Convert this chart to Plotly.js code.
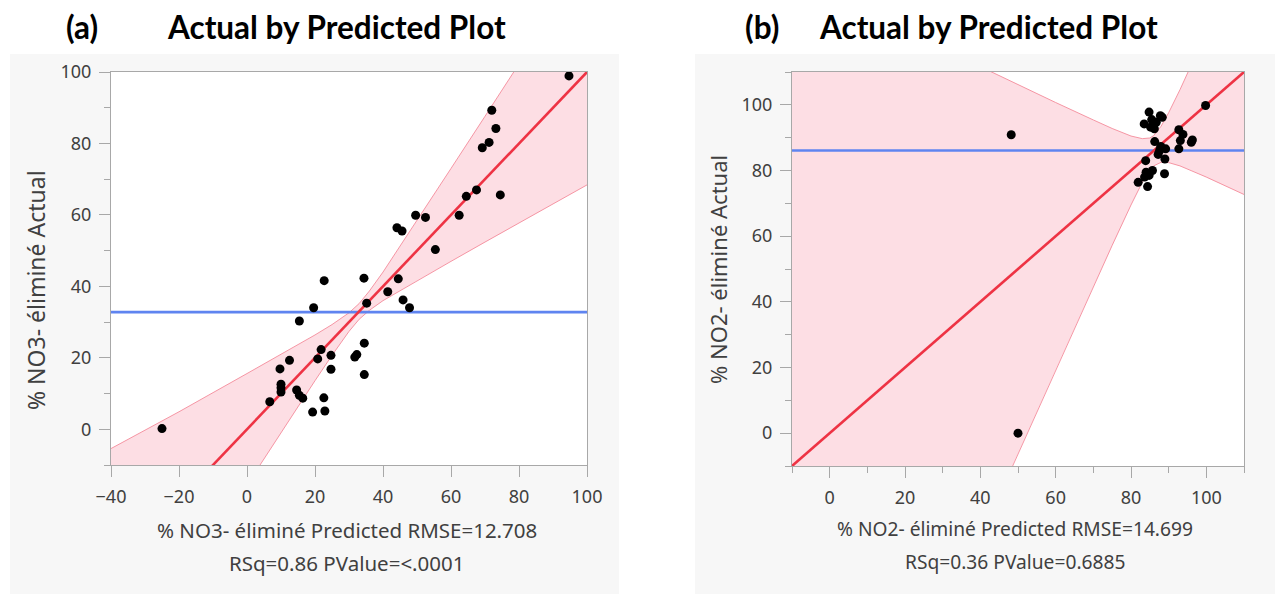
<!DOCTYPE html>
<html>
<head>
<meta charset="utf-8">
<script src="https://cdn.plot.ly/plotly-3.0.1.min.js"></script>
<style>html,body{margin:0;padding:0;background:#fff;} #chart{width:1275px;height:594px;}</style>
</head>
<body>
<div id="chart"></div>
<script>
// ---------- Panel (a) data: % NO3- éliminé ----------
var aPredicted = [-25,94.7,72,73.2,71.2,69.2,67.5,64.5,74.5,62.4,49.6,52.5,44.1,45.6,55.4,22.7,34.4,44.5,41.4,45.9,35.2,47.8,19.6,15.4,21.8,34.5,24.7,20.8,32.3,31.7,12.5,9.7,24.7,34.5,10,10,10,14.6,15.4,16.4,6.7,22.6,19.3,22.9];
var aActual    = [0.2,98.9,89.3,84.2,80.3,78.8,67,65.2,65.6,59.9,59.9,59.3,56.4,55.5,50.3,41.6,42.3,42.1,38.5,36.2,35.3,34,34,30.3,22.3,24.1,20.7,19.7,20.9,20.2,19.3,16.9,16.8,15.3,12.6,11.6,10.4,11,9.5,8.7,7.7,8.8,4.8,5.1];
var aMean = 32.8;
var aFitX = [-40, 100];
var aBandX     = [-40,-20,0,10,20,25,30,33,36,40,50,60,70,80,90,100];
var aBandUpper = [-5.4,4.9,15.6,20.9,26.4,29.3,32.6,35.2,38.7,44.0,58.4,73.0,87.6,102.3,116.9,131.6];
var aBandLower = [-74.3,-24.9,-15.6,-0.9,13.6,20.7,27.4,30.8,33.3,36.0,41.6,47.0,52.4,57.7,63.1,68.4];

// ---------- Panel (b) data: % NO2- éliminé ----------
var bPredicted = [48.2,50,99.8,84.8,87.8,83.5,85.2,86.7,86.2,88.3,85.5,92.7,93.8,93.1,92.7,96.3,96.0,86.3,87.9,89.2,87.2,89.0,87.6,83.9,85.7,84.8,83.6,81.9,84.4,88.9,84.0];
var bActual    = [90.9,0,99.8,97.8,96.7,94.2,93.2,94.7,92.7,96.2,95.5,92.4,91,89.1,86.6,89.3,88.6,88.8,87.3,86.6,84.9,83.5,86.1,83,80,78.5,78,76.4,75.1,79,79.5];
var bMean = 86.1;
var bFitX = [-10, 110];
var bBandX     = [-10,0,20,40,45,50,55,60,70,75,80,83,85,86,88,90,93,96,100,110];
var bBandUpper = [139.0,133.5,122.6,111.6,108.9,106.1,103.4,100.7,95.4,92.8,90.5,89.7,89.9,90.6,93.5,97.6,104.6,112.0,122.0,147.3];
var bBandLower = [-159,-133.5,-82.6,-31.6,-18.9,-6.1,6.6,19.3,44.6,57.2,69.5,76.4,80.1,81.4,82.5,82.4,81.4,80.0,78.0,72.7];

// ---------- Text ----------
var titleA = "Actual by Predicted Plot", labelA = "(a)";
var titleB = "Actual by Predicted Plot", labelB = "(b)";
var xTitleA1 = "% NO3- éliminé Predicted RMSE=12.708", xTitleA2 = "RSq=0.86 PValue=<.0001";
var xTitleB1 = "% NO2- éliminé Predicted RMSE=14.699", xTitleB2 = "RSq=0.36 PValue=0.6885";
var yTitleA = "% NO3- éliminé Actual", yTitleB = "% NO2- éliminé Actual";

// ---------- helpers ----------
var W = 1275, H = 594;
function px(v){ return v / W; }
function py(v){ return 1 - v / H; }

var bandFill = 'rgba(252,205,214,0.65)';
var bandEdge = 'rgba(244,140,155,0.9)';
var fitColor = '#ee3344';
var meanColor = '#5f84f0';

function panelTraces(xa, ya, bx, bu, bl, fitX, mean, ptsX, ptsY){
  var polyX = bx.concat(bx.slice().reverse());
  var polyY = bu.concat(bl.slice().reverse());
  return [
    {x: polyX, y: polyY, xaxis: xa, yaxis: ya, type:'scatter', mode:'lines', fill:'toself',
     fillcolor: bandFill, line:{width:0, color:'rgba(0,0,0,0)'}, hoverinfo:'skip', showlegend:false},
    {x: bx, y: bu, xaxis: xa, yaxis: ya, type:'scatter', mode:'lines', line:{color: bandEdge, width:1}, hoverinfo:'skip', showlegend:false},
    {x: bx, y: bl, xaxis: xa, yaxis: ya, type:'scatter', mode:'lines', line:{color: bandEdge, width:1}, hoverinfo:'skip', showlegend:false},
    {x: fitX, y: [mean, mean], xaxis: xa, yaxis: ya, type:'scatter', mode:'lines', line:{color: meanColor, width:2.6}, showlegend:false},
    {x: fitX, y: fitX, xaxis: xa, yaxis: ya, type:'scatter', mode:'lines', line:{color: fitColor, width:2.6}, showlegend:false},
    {x: ptsX, y: ptsY, xaxis: xa, yaxis: ya, type:'scatter', mode:'markers', marker:{color:'#000', size:9}, showlegend:false}
  ];
}

var traces = [].concat(
  panelTraces('x','y', aBandX, aBandUpper, aBandLower, aFitX, aMean, aPredicted, aActual),
  panelTraces('x2','y2', bBandX, bBandUpper, bBandLower, bFitX, bMean, bPredicted, bActual)
);

var tickFont = {family:'"Noto Sans", "Open Sans", sans-serif', size:18, color:'#404040'};
var lineCol = '#a8a8a8';
function axis(domain, range, dtick, minor, anchor){
  var ax = {domain: domain, range: range, dtick: dtick, tick0: 0, ticks:'outside', ticklen: 11, tickwidth:1,
    tickcolor: lineCol, showline:true, mirror:true, linecolor: lineCol, linewidth:1,
    showgrid:false, zeroline:false, tickfont: tickFont, anchor: anchor, fixedrange:true, ticklabelstandoff: 4};
  if (minor) ax.minor = {dtick: minor, ticklen: 6, tickcolor: lineCol, tickwidth:1, ticks:'outside', showgrid:false};
  return ax;
}

var titleFont = {family:'Lato, "Open Sans", sans-serif', size:31.5, color:'#000', weight:700};
var axTitleFontA = {family:'"Noto Sans", "Open Sans", sans-serif', size:20.5, color:'#404040'};
var axTitleFontB = {family:'"Noto Sans", "Open Sans", sans-serif', size:19.2, color:'#404040'};
var yTitleFontA = {family:'"Noto Sans", "Open Sans", sans-serif', size:23, color:'#404040'};
var yTitleFontB = {family:'"Noto Sans", "Open Sans", sans-serif', size:22, color:'#404040'};

function ann(text, x, y, font, extra){
  var o = {text: text, x: px(x), y: py(y), xref:'paper', yref:'paper', showarrow:false,
    xanchor:'center', yanchor:'middle', font: font};
  for (var k in (extra||{})) o[k] = extra[k];
  return o;
}

var layout = {
  width: W, height: H,
  margin: {l:0, r:0, t:0, b:0, pad:0},
  paper_bgcolor:'#ffffff', plot_bgcolor:'rgba(0,0,0,0)',
  showlegend:false,
  xaxis:  axis([px(111), px(587)], [-40, 100], 20, null, 'y'),
  yaxis:  axis([py(465), py(72)], [-10, 100], 20, 10, 'x'),
  xaxis2: axis([px(792), px(1244)], [-10, 110], 20, 10, 'y2'),
  yaxis2: axis([py(466), py(72)], [-10, 110], 20, 10, 'x2'),
  shapes: [
    {type:'rect', xref:'paper', yref:'paper', x0:px(10), x1:px(619), y0:0, y1:py(54), fillcolor:'#f7f7f7', line:{width:0}, layer:'below'},
    {type:'rect', xref:'paper', yref:'paper', x0:px(695), x1:1, y0:0, y1:py(54), fillcolor:'#f7f7f7', line:{width:0}, layer:'below'},
    {type:'rect', xref:'paper', yref:'paper', x0:px(111), x1:px(587), y0:py(465), y1:py(72), fillcolor:'#ffffff', line:{width:0}, layer:'below'},
    {type:'rect', xref:'paper', yref:'paper', x0:px(792), x1:px(1244), y0:py(466), y1:py(72), fillcolor:'#ffffff', line:{width:0}, layer:'below'}
  ],
  annotations: [
    ann(labelA, 82, 27, titleFont),
    ann(titleA, 336, 27, titleFont),
    ann(labelB, 762, 27, titleFont),
    ann(titleB, 988, 27, titleFont),
    ann(xTitleA1, 347, 530, axTitleFontA),
    ann(xTitleA2, 347, 563, axTitleFontA),
    ann(xTitleB1, 1015, 528, axTitleFontB),
    ann(xTitleB2, 1015, 561, axTitleFontB),
    ann(yTitleA, 36, 290, yTitleFontA, {textangle:-90}),
    ann(yTitleB, 718, 270, yTitleFontB, {textangle:-90})
  ]
};

Plotly.newPlot('chart', traces, layout, {displayModeBar:false, staticPlot:true});
</script>
</body>
</html>
